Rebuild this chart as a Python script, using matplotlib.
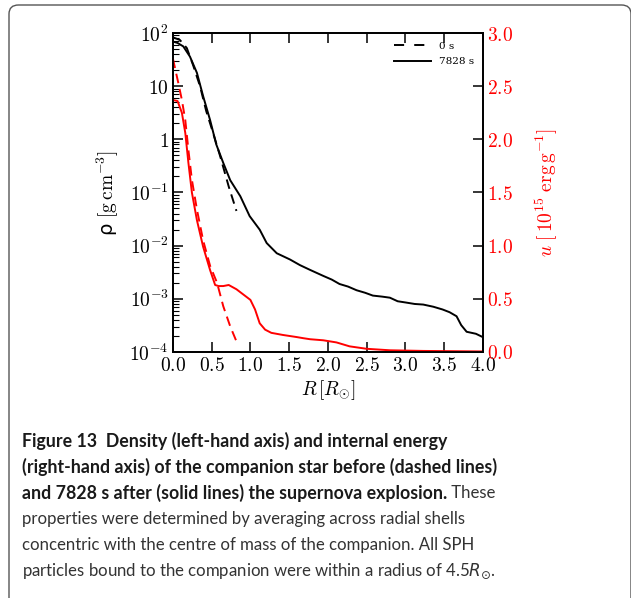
import matplotlib
matplotlib.use("Agg")
import matplotlib.pyplot as plt
from matplotlib.patches import FancyBboxPatch
from matplotlib.lines import Line2D
from matplotlib.ticker import FixedLocator, FixedFormatter, LogLocator, NullFormatter

# density after 7828 s (solid black)
r_rho_after = [0.0, 0.06, 0.134, 0.22, 0.31, 0.39, 0.48, 0.56, 0.65, 0.74, 0.87, 0.99, 1.12,
               1.21, 1.34, 1.51, 1.64, 1.77, 1.94, 2.05, 2.15, 2.26, 2.37, 2.48, 2.58, 2.70,
               2.80, 2.90, 3.01, 3.12, 3.23, 3.36, 3.48, 3.57, 3.66, 3.72, 3.79, 3.91, 4.0]
rho_after = [69, 65, 56, 36, 17.8, 6.5, 2.3, 0.8, 0.36, 0.17, 0.085, 0.036, 0.020,
             0.0112, 0.0072, 0.0055, 0.0043, 0.0035, 0.0027, 0.0023, 0.0019, 0.0017, 0.00145,
             0.0013, 0.00115, 0.0011, 0.00105, 0.0009, 0.00085, 0.0008, 0.00078, 0.00071,
             0.00063, 0.00056, 0.00047, 0.00032, 0.00024, 0.00022, 0.00019]

# density at 0 s (dashed black)
r_rho_before = [0.0, 0.09, 0.18, 0.26, 0.35, 0.43, 0.52, 0.61, 0.72, 0.82]
rho_before = [83, 74, 52, 25, 10, 3.4, 1.3, 0.48, 0.13, 0.045]

# internal energy after 7828 s (solid red)
r_u_after = [0.0, 0.06, 0.116, 0.16, 0.2, 0.245, 0.31, 0.39, 0.48, 0.545, 0.59, 0.65, 0.72,
             0.82, 0.91, 1.0, 1.06, 1.12, 1.19, 1.27, 1.42, 1.60, 1.68, 1.77, 1.94, 2.11,
             2.28, 2.5, 2.8, 3.23, 4.0]
u_after = [2.37, 2.36, 2.25, 2.06, 1.78, 1.50, 1.24, 0.99, 0.77, 0.63, 0.62, 0.62, 0.63,
           0.59, 0.54, 0.49, 0.40, 0.27, 0.21, 0.18, 0.16, 0.14, 0.13, 0.12, 0.11, 0.09,
           0.053, 0.03, 0.016, 0.01, 0.005]

# internal energy at 0 s (dashed red)
r_u_before = [0.0, 0.07, 0.116, 0.16, 0.2, 0.245, 0.31, 0.39, 0.48, 0.57, 0.65, 0.74, 0.82]
u_before = [2.76, 2.53, 2.37, 2.18, 1.90, 1.62, 1.34, 1.05, 0.81, 0.65, 0.43, 0.24, 0.10]

rho_ticks = [1e-4, 1e-3, 1e-2, 1e-1, 1, 10, 100]
rho_labels = ["$10^{-4}$", "$10^{-3}$", "$10^{-2}$", "$10^{-1}$", "$1$", "$10$", "$10^{2}$"]
r_ticks = [0.0, 0.5, 1.0, 1.5, 2.0, 2.5, 3.0, 3.5, 4.0]
u_ticks = [0.0, 0.5, 1.0, 1.5, 2.0, 2.5, 3.0]
legend_labels = ["0 s", "7828 s"]

caption_bold = ["Figure 13  Density (left-hand axis) and internal energy",
                "(right-hand axis) of the companion star before (dashed lines)",
                "and 7828 s after (solid lines) the supernova explosion."]
caption_tail = " These"
caption_plain = ["properties were determined by averaging across radial shells",
                 "concentric with the centre of mass of the companion. All SPH",
                 "particles bound to the companion were within a radius of 4.5$R_{\\odot}$."]

plt.rcParams["mathtext.fontset"] = "cm"

fig = plt.figure(figsize=(6.31, 5.98), dpi=100)
ax = fig.add_axes([0.274, 0.4114, 0.4913, 0.5334])
ax2 = ax.twinx()

ax.plot(r_rho_before, rho_before, color="k", lw=1.4, ls=(0, (5, 3)))
ax.plot(r_rho_after, rho_after, color="k", lw=1.4)
ax2.plot(r_u_before, u_before, color="red", lw=1.4, ls=(0, (5, 3)))
ax2.plot(r_u_after, u_after, color="red", lw=1.4)

ax.set_yscale("log")
ax.set_ylim(1e-4, 100)
ax.set_xlim(0, 4)
ax2.set_ylim(0, 3)

ax.xaxis.set_major_locator(FixedLocator(r_ticks))
ax.xaxis.set_major_formatter(FixedFormatter(["$%.1f$" % t for t in r_ticks]))
ax.yaxis.set_major_locator(FixedLocator(rho_ticks))
ax.yaxis.set_major_formatter(FixedFormatter(rho_labels))
ax.yaxis.set_minor_locator(LogLocator(base=10, subs=range(2, 10), numticks=20))
ax.yaxis.set_minor_formatter(NullFormatter())
ax2.yaxis.set_major_locator(FixedLocator(u_ticks))
ax2.yaxis.set_major_formatter(FixedFormatter(["$%.1f$" % t for t in u_ticks]))

ax.tick_params(axis="both", which="major", direction="in", length=7, width=1.1,
               labelsize=14, top=True, pad=3)
ax.tick_params(axis="y", which="minor", direction="in", length=4, width=0.8)
ax2.tick_params(axis="y", which="major", direction="in", length=7, width=1.1,
                labelsize=14, labelcolor="red", pad=3)
for a in (ax, ax2):
    for s in a.spines.values():
        s.set_linewidth(1.3)

ax.set_xlabel("$R\\,[R_{\\odot}]$", fontsize=14, labelpad=2)
ax.set_ylabel("ρ $[\\mathrm{g\\,cm^{-3}}]$", fontsize=14, family="DejaVu Sans",
              math_fontfamily="cm", labelpad=6)
ax2.set_ylabel("$u\\ [\\,10^{15}\\ \\mathrm{erg\\,g^{-1}}]$", fontsize=14, color="red", labelpad=15)

handles = [Line2D([], [], color="k", lw=1.4, ls=(0, (5.2, 5.2))),
           Line2D([], [], color="k", lw=1.4)]
ax.legend(handles, legend_labels, loc="upper right", frameon=False, handlelength=3.6,
          borderaxespad=0.4, labelspacing=0.6,
          prop={"family": "DejaVu Serif", "size": 7.5})

# caption, sized so the lines span the same width as in the figure
cap_font = "Lato"
x0 = 22 / 631
line_y = [441, 467, 493, 519, 545, 571]
renderer = fig.canvas.get_renderer()


def fit_size(s, weight, target):
    t = fig.text(0, 0, s, fontsize=12, family=cap_font, weight=weight)
    w = t.get_window_extent(renderer=renderer).width
    t.remove()
    return 12 * target / w


bold_size = fit_size(caption_bold[1], "bold", 470)
plain_size = fit_size(caption_plain[0], "normal", 443)

for i, line in enumerate(caption_bold):
    t = fig.text(x0, 1 - line_y[i] / 598, line, fontsize=bold_size, family=cap_font,
                 weight="bold", color="#1a1a1a", va="center", ha="left")
bb = t.get_window_extent(renderer=renderer)
fig.text(bb.x1 / fig.bbox.width, 1 - line_y[2] / 598, caption_tail, fontsize=plain_size,
         family=cap_font, color="#333333", va="center", ha="left")
for j, line in enumerate(caption_plain):
    fig.text(x0, 1 - line_y[3 + j] / 598, line, fontsize=plain_size, family=cap_font,
             color="#333333", va="center", ha="left", math_fontfamily="dejavusans")

# rounded frame
frame = FancyBboxPatch((9 / 631, -0.05), 622 / 631, 1 - 5 / 598 + 0.05,
                       boxstyle="round,pad=0,rounding_size=0.015", transform=fig.transFigure,
                       facecolor="none", edgecolor="#555555", lw=1.0, clip_on=False)
fig.patches.append(frame)

fig.savefig("out.png", dpi=100)
